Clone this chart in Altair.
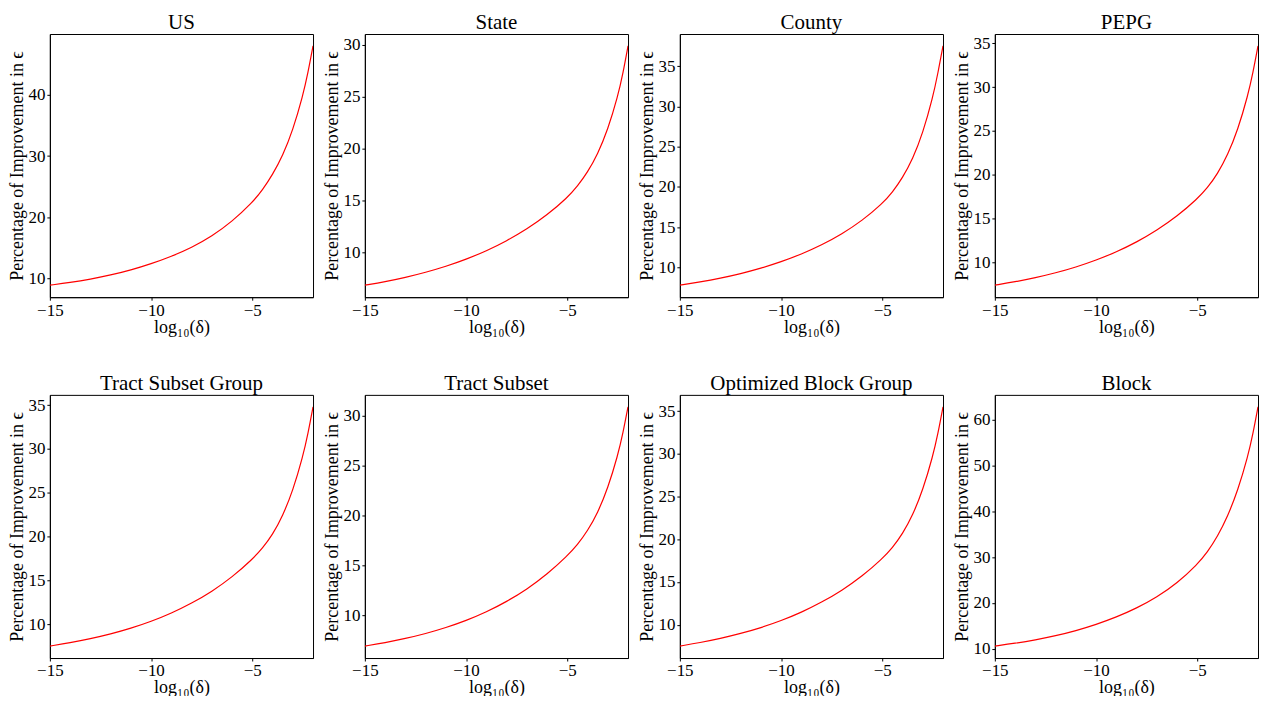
import altair as alt
import pandas as pd

# log10(delta) positions shared by every panel
log_delta = [-15, -14, -13, -12, -11, -10, -9, -8, -7, -6, -5,
             -4.5, -4, -3.5, -3, -2.5, -2.25, -2]

panel_names = ["US", "State", "County", "PEPG",
               "Tract Subset Group", "Tract Subset", "Optimized Block Group", "Block"]

us_vals = [8.9, 9.34, 9.88, 10.55, 11.38, 12.40, 13.6, 15.05, 16.9, 19.3, 22.41,
           24.45, 26.95, 30.05, 34.2, 39.9, 43.6, 48.0]
state_vals = [6.8, 7.14, 7.55, 8.04, 8.61, 9.30, 10.11, 11.07, 12.21, 13.57, 15.25,
              16.35, 17.7, 19.45, 21.8, 25.06, 27.25, 29.9]
county_vals = [7.8, 8.20, 8.67, 9.23, 9.90, 10.70, 11.65, 12.78, 14.15, 15.80, 17.92,
               19.33, 21.14, 23.45, 26.65, 31.15, 34.15, 37.5]
pepg_vals = [7.4, 7.79, 8.25, 8.80, 9.46, 10.25, 11.19, 12.31, 13.66, 15.26, 17.25,
             18.5, 20.1, 22.25, 25.1, 29.05, 31.63, 34.7]
tsg_vals = [7.5, 7.88, 8.33, 8.87, 9.52, 10.30, 11.24, 12.37, 13.72, 15.35, 17.40,
            18.65, 20.2, 22.35, 25.2, 29.15, 31.72, 34.8]
ts_vals = [6.9, 7.24, 7.65, 8.14, 8.74, 9.45, 10.31, 11.35, 12.59, 14.09, 15.95,
           17.05, 18.45, 20.25, 22.7, 26.06, 28.26, 30.9]
obg_vals = [7.5, 7.90, 8.38, 8.96, 9.64, 10.46, 11.44, 12.61, 14.0, 15.66, 17.72,
            19.0, 20.62, 22.8, 25.72, 29.75, 32.36, 35.5]
block_vals = [10.6, 11.2, 11.94, 12.84, 13.94, 15.3, 16.9, 18.85, 21.25, 24.3, 28.4,
              31.1, 34.5, 38.9, 44.5, 52.0, 56.9, 62.8]

y_ticks = [
    [10, 20, 30, 40],
    [10, 15, 20, 25, 30],
    [10, 15, 20, 25, 30, 35],
    [10, 15, 20, 25, 30, 35],
    [10, 15, 20, 25, 30, 35],
    [10, 15, 20, 25, 30],
    [10, 15, 20, 25, 30, 35],
    [10, 20, 30, 40, 50, 60],
]

x_ticks = [-15, -10, -5]

series = [us_vals, state_vals, county_vals, pepg_vals, tsg_vals, ts_vals, obg_vals, block_vals]

FONT = "Liberation Serif"


def panel(name, vals, ticks):
    df = pd.DataFrame({"x": log_delta, "y": vals})
    lo, hi = min(vals), max(vals)
    m = 0.05 * (hi - lo)
    return (
        alt.Chart(df)
        .mark_line(color="red", strokeWidth=1.2, interpolate="basis", clip=True)
        .encode(
            x=alt.X("x:Q",
                    scale=alt.Scale(domain=[-15, -2], nice=False, zero=False),
                    axis=alt.Axis(values=x_ticks, title="log₁₀(δ)", labelFlush=False)),
            y=alt.Y("y:Q",
                    scale=alt.Scale(domain=[lo - m, hi + m], nice=False, zero=False),
                    axis=alt.Axis(values=ticks, title="Percentage of Improvement in ϵ",
                                  labelFlush=False)),
        )
        .properties(width=264, height=264, title=name)
    )


charts = [panel(n, v, t) for n, v, t in zip(panel_names, series, y_ticks)]

row1 = alt.hconcat(*charts[:4], spacing=9)
row2 = alt.hconcat(*charts[4:], spacing=9)

chart = (
    alt.vconcat(row1, row2, spacing=35)
    .properties(padding={"left": 0, "top": 2, "right": 0, "bottom": -3})
    .configure_view(stroke="black", strokeWidth=1)
    .configure_axis(
        grid=False,
        domainColor="black",
        tickColor="black",
        labelColor="black",
        titleColor="black",
        labelFont=FONT,
        titleFont=FONT,
        labelFontSize=17,
        titleFontSize=18,
        titleFontWeight="normal",
        tickSize=3,
        labelPadding=2,
        titlePadding=1,
    )
    .configure_axisX(labelPadding=2, titlePadding=0)
    .configure_title(font=FONT, fontSize=21, fontWeight="normal", color="black", offset=1)
)

chart.save("out.html", embed_options={"renderer": "svg", "actions": False})
